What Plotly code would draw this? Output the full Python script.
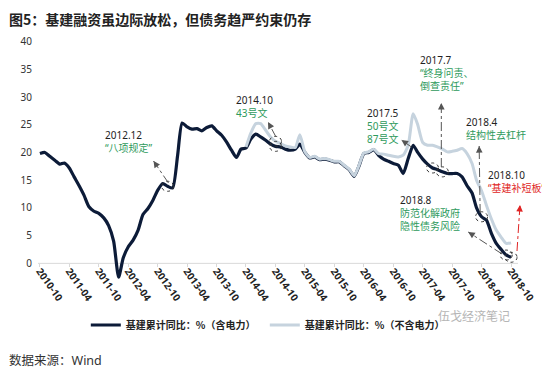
import pandas as pd
import plotly.graph_objects as go

# ---------------- data ----------------
months = pd.date_range("2010-10-01", "2018-10-01", freq="MS")

dark_vals = [19.8, 20.0, 19.3, 18.6, 17.9, 18.1, 17.2, 15.6, 14.0, 12.3,
             10.2, 9.4, 9.0, 8.2, 6.8, 4.0, -2.5, 1.0, 3.0, 4.2,
             6.0, 8.8, 9.9, 11.4, 13.2, 14.4, 13.9, 13.6, 19.5, 25.3,
             24.6, 24.2, 24.3, 23.9, 24.5, 24.8, 23.9, 23.1, 21.9, 20.4,
             19.1, 20.6, 20.8, 22.4, 23.3, 22.8, 22.2, 21.5, 21.1, 21.0,
             20.6, 20.4, 20.6, 21.5, 20.0, 19.0, 19.2, 18.7, 18.8, 18.6,
             18.3, 18.3, 17.6, 16.9, 15.7, 17.5, 19.8, 20.0, 20.5, 19.5,
             18.8, 18.4, 18.0, 17.7, 16.2, 18.9, 21.3, 20.0, 18.8, 17.9,
             17.2, 16.9, 16.5, 16.2, 16.2, 16.2, 15.6, 14.0, 12.7, 10.0,
             8.4, 7.8, 5.4, 3.6, 2.5, 1.5, 1.1]

light_vals = [None] * 42 + [
             21.0, 23.5, 25.2, 25.2, 24.0, 22.8, 22.0, 21.6,
             21.2, 21.0, 20.9, 23.2, 20.1, 19.1, 19.3, 18.8, 18.9, 18.7,
             18.4, 18.4, 17.7, 17.0, 15.8, 17.6, 19.9, 20.1, 20.6, 19.8,
             19.7, 19.5, 19.3, 19.2, 19.5, 21.3, 27.0, 25.0, 21.8, 21.3,
             21.3, 21.0, 20.6, 20.1, 20.2, 20.4, 20.7, 19.8, 18.0, 15.0,
             13.1, 10.5, 8.0, 6.0, 4.7, 3.6, 3.7]

name_dark = "基建累计同比：%（含电力）"
name_light = "基建累计同比：%（不含电力）"
y_ticks = [0, 5, 10, 15, 20, 25, 30, 35, 40]

title_text = "图5：基建融资虽边际放松，但债务趋严约束仍存"
source_text = "数据来源：Wind"
watermark_text = "伍戈经济笔记"

# ---------------- layout geometry ----------------
# the page body has an 8px default margin, so the figure is drawn 8px in;
# coordinates below are page pixels and are converted to figure pixels.
OFF = 8
W, H = 550 - OFF, 372 - OFF
PAGE_PL, PAGE_PR, PAGE_PT, PAGE_PB = 38, 520, 36, 280
ML, MR = PAGE_PL - OFF, W - (PAGE_PR - OFF)
MT, MB = PAGE_PT - OFF, H - (PAGE_PB - OFF)


def px(x):
    return (x - PAGE_PL) / (PAGE_PR - PAGE_PL)


def py(y):
    return (PAGE_PB - y) / (PAGE_PB - PAGE_PT)


CJK = "Noto Sans CJK SC"
MIX = "Noto Sans, Noto Sans CJK SC"
GREEN = "#2e9a5c"
RED = "#e02424"
DARK = "#0c1b38"
LIGHT = "#c6d3de"

fig = go.Figure()
fig.add_trace(go.Scatter(x=months, y=dark_vals, mode="lines", name=name_dark,
                         line=dict(color=DARK, width=3.2, shape="spline", smoothing=0.6)))
fig.add_trace(go.Scatter(x=months, y=light_vals, mode="lines", name=name_light,
                         line=dict(color=LIGHT, width=3, shape="spline", smoothing=0.6)))

# circles around highlighted points
circle_pts = [(26, dark_vals), (48, dark_vals), (48, light_vals), (80, dark_vals),
              (82, dark_vals), (90, dark_vals), (95, dark_vals), (96, dark_vals)]
shapes = []
for i, series in circle_pts:
    shapes.append(dict(type="circle", xref="x", yref="y", xsizemode="pixel", ysizemode="pixel",
                       xanchor=months[i], yanchor=series[i], x0=-6, x1=6, y0=-5, y1=5,
                       line=dict(color="#333", width=1, dash="dot")))

# leader lines (page-pixel geometry) : (x0,y0,x1,y1,color)
leaders = [
    (169, 183, 154, 161, "#555"),
    (277, 137, 269, 122, "#555"),
    (413, 147, 403, 140, "#555"),
    (443, 167, 443, 103, "#555"),
    (482, 213, 481, 146, "#555"),
    (504, 254, 470, 232, "#555"),
    (519, 251, 522, 205, RED),
]
annotations = []
for x0, y0, x1, y1, c in leaders:
    shapes.append(dict(type="line", xref="paper", yref="paper", x0=px(x0), y0=py(y0),
                       x1=px(x1), y1=py(y1), line=dict(color=c, width=1, dash="dashdot")))
    dx, dy = x0 - x1, y0 - y1
    n = (dx * dx + dy * dy) ** 0.5
    annotations.append(dict(xref="paper", yref="paper", x=px(x1), y=py(y1), text="",
                            showarrow=True, arrowhead=2, arrowsize=1.1, arrowwidth=1.2,
                            arrowcolor=c, ax=dx / n * 7, ay=dy / n * 7))

# x axis line at y=0
shapes.append(dict(type="line", xref="paper", yref="y", x0=0, x1=1, y0=0, y1=0,
                   line=dict(color="#d9d9d9", width=1), layer="below"))


def callout(x, y_first, date, lines, color=GREEN, size=10):
    body = "<br>".join(f"<span style='color:{color}'>{s}</span>" for s in lines)
    annotations.append(dict(xref="paper", yref="paper", x=px(x), y=py(y_first - 7.5),
                            text=f"{date}<br>{body}", showarrow=False,
                            xanchor="left", yanchor="top", align="left",
                            font=dict(family=MIX, size=size, color="#222")))


def txt(x, y, s, color="#222", size=10):
    annotations.append(dict(xref="paper", yref="paper", x=px(x), y=py(y), text=s,
                            showarrow=False, xanchor="left", yanchor="middle", align="left",
                            font=dict(family=MIX, size=size, color=color)))


callout(103, 133, "2012.12", ["“八项规定”"])
callout(235, 98, "2014.10", ["43号文"])
callout(366, 112, "2017.5", ["50号文", "87号文"])
callout(420, 58, "2017.7", ["“终身问责、", "倒查责任”"])
callout(466, 120, "2018.4", ["结构性去杠杆"])
callout(488, 173, "2018.10", ["“基建补短板”"], RED)
callout(400, 198, "2018.8", ["防范化解政府", "隐性债务风险"])

# title, watermark and source
annotations.append(dict(xref="paper", yref="paper", x=px(8), y=py(18.5),
                        text=f"<b>{title_text}</b>", showarrow=False, borderpad=0,
                        xanchor="left", yanchor="middle", align="left",
                        font=dict(family=CJK, size=14, color="#222")))
txt(438, 316, watermark_text, "#b5b5b5", 12)
txt(7, 361, source_text, "#333", 12.5)

fig.update_layout(
    width=W, height=H,
    margin=dict(l=ML, r=MR, t=MT, b=MB, pad=0),
    paper_bgcolor="white", plot_bgcolor="white",
    font=dict(family=CJK, size=10, color="#333"),
    xaxis=dict(type="date", range=["2010-09-19", "2018-11-13"], tickformat="%Y-%m",
               dtick="M6", tick0="2010-10-01", tickangle=55, showgrid=False,
               zeroline=False, showline=False, anchor="free", position=3 / 44,
               ticks="outside", ticklen=3, tickcolor="#d9d9d9",
               ticklabelstandoff=-6,
               tickfont=dict(family="Noto Sans", size=10, color="#222", weight="bold")),
    yaxis=dict(range=[-3, 41], tickvals=y_ticks, showgrid=False, zeroline=False,
               showline=False, ticks="", ticklabelstandoff=5,
               tickfont=dict(family="Noto Sans", size=10, color="#333")),
    legend=dict(orientation="h", x=px(86), y=py(325), xanchor="left", yanchor="middle",
                itemwidth=30, entrywidth=134, entrywidthmode="pixels",
                font=dict(family=CJK, size=10, color="#222", weight="bold"),
                bgcolor="rgba(0,0,0,0)"),
    shapes=shapes,
    annotations=annotations,
    showlegend=True,
)

fig.write_html("out.html")
